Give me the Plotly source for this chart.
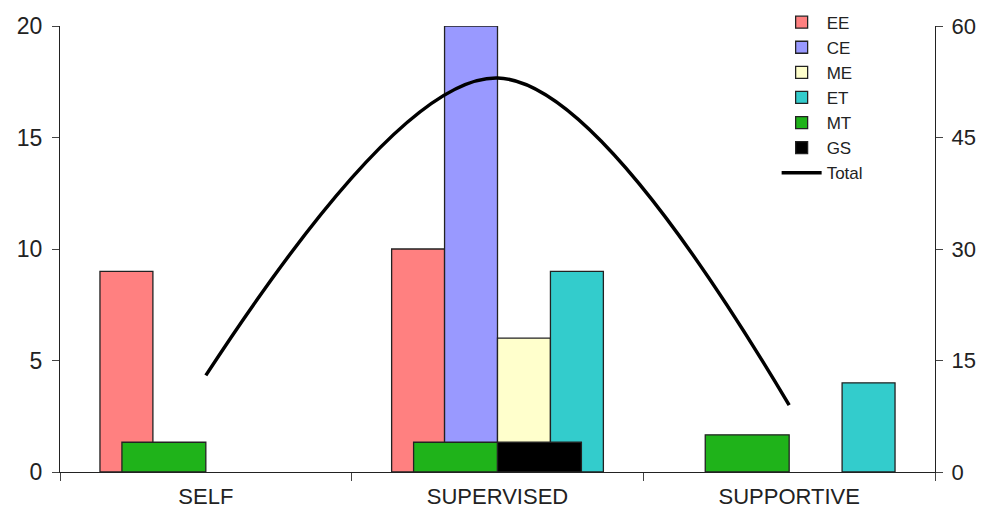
import plotly.graph_objects as go

categories = ["SELF", "SUPERVISED", "SUPPORTIVE"]
ee = [9, 10, None]
ce = [None, 20, None]
me = [None, 6, None]
et = [None, 9, 4]
mt = [4, 4, 5]
gs = [None, 4, None]
total = [13, 53, 9]

w1 = 0.1815
w2 = 0.2877
fig = go.Figure()
prim = [("EE", ee, "#FF8080"), ("CE", ce, "#9999FF"), ("ME", me, "#FFFFCC"), ("ET", et, "#33CCCC")]
for i, (name, vals, col) in enumerate(prim):
    fig.add_trace(go.Bar(x=categories, y=vals, name=name, width=w1, offset=-2 * w1 + i * w1,
                         marker=dict(color=col, line=dict(color="#222", width=1.3)), yaxis="y"))
sec = [("MT", mt, "#1FB31A"), ("GS", gs, "#000000")]
for i, (name, vals, col) in enumerate(sec):
    fig.add_trace(go.Bar(x=categories, y=vals, name=name, width=w2, offset=-w2 + i * w2,
                         marker=dict(color=col, line=dict(color="#222", width=1.3)), yaxis="y2"))
fig.add_trace(go.Scatter(x=categories, y=total, name="Total", mode="lines",
                         line=dict(color="black", width=3.5, shape="spline", smoothing=1), yaxis="y2"))

font = dict(family="Liberation Sans, Arial, sans-serif", size=22, color="#222")
fig.update_layout(
    width=978, height=500, margin=dict(l=52, r=51, t=18, b=36, autoexpand=False),
    plot_bgcolor="white", paper_bgcolor="white", font=font,
    barmode="overlay", showlegend=True,
    xaxis=dict(type="category", tickson="boundaries", ticks="outside", ticklen=8,
               showline=True, linecolor="#222", linewidth=1.3, showgrid=False,
               tickfont=dict(size=22), range=[-0.5, 2.5], automargin=False,
               ticklabelstandoff=4),
    yaxis=dict(range=[0, 20], tickvals=[0, 5, 10, 15, 20], ticks="outside", ticklen=7,
               showline=True, linecolor="#222", linewidth=1.3, showgrid=False, zeroline=False,
               automargin=False, tickfont=dict(size=23), ticklabelstandoff=5),
    yaxis2=dict(range=[0, 60], tickvals=[0, 15, 30, 45, 60], ticks="outside", ticklen=7,
                overlaying="y", side="right", showline=True, linecolor="#222", linewidth=1.3,
                showgrid=False, zeroline=False, automargin=False, tickfont=dict(size=22),
                ticklabelstandoff=4),
    legend=dict(x=0.819, y=1.048, xanchor="left", yanchor="top", bgcolor="rgba(0,0,0,0)",
                font=dict(size=17), tracegroupgap=0, itemwidth=40),
)
fig.write_html("out.html")
